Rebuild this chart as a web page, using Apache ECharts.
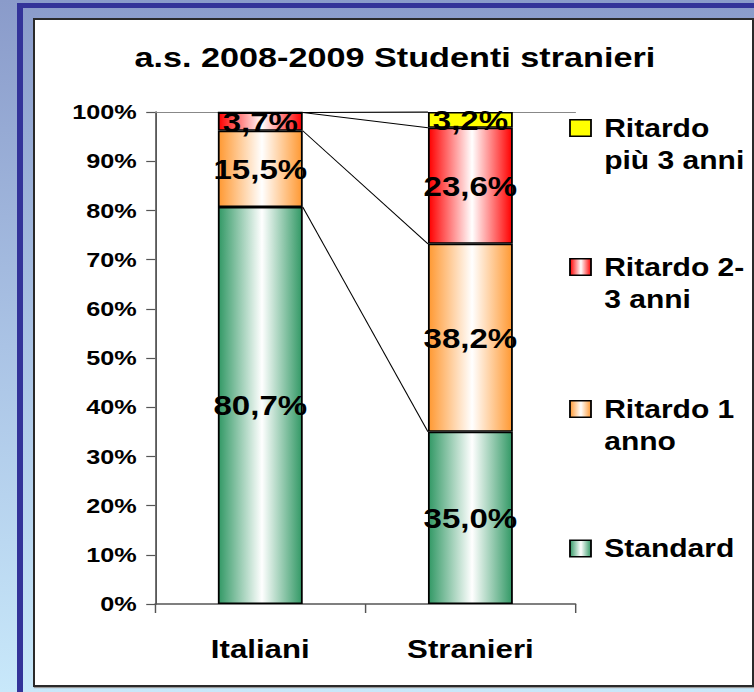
<!DOCTYPE html>
<html><head><meta charset="utf-8">
<script src="https://cdn.jsdelivr.net/npm/echarts@6/dist/echarts.min.js"></script>
<style>
html,body{margin:0;padding:0;width:754px;height:692px;overflow:hidden;}
body{background:linear-gradient(to bottom,#8a9bca 0%,#aac3e5 50%,#c8e8fa 100%);position:relative;}
#frameL{position:absolute;left:17px;top:3px;width:6px;height:720px;background:#333399;}
#frameT{position:absolute;left:17px;top:3px;width:780px;height:4.5px;background:#333399;}
#panel{position:absolute;left:33px;top:18px;width:721px;height:669px;background:#fff;border:2px solid #2a2a2a;box-sizing:border-box;box-shadow:1px 1px 1px #999;}
#chart{position:absolute;left:0;top:0;width:628px;height:692px;transform:scaleX(1.2006);transform-origin:0 0;}
</style></head>
<body>
<div id="frameL"></div><div id="frameT"></div><div id="panel"></div>
<div id="chart"></div>
<script>
// ---- data ----
const titleText = 'a.s. 2008-2009 Studenti stranieri';
const categories = ['Italiani', 'Stranieri'];
const seriesNames = ['Standard', 'Ritardo 1 anno', 'Ritardo 2-3 anni', 'Ritardo più 3 anni'];
const standard = [80.7, 35.0];
const ritardo1 = [15.5, 38.2];
const ritardo23 = [3.7, 23.6];
const ritardoPiu3 = [0, 3.2];
const legendOrder = ['Ritardo più 3 anni', 'Ritardo 2-3 anni', 'Ritardo 1 anno', 'Standard'];
const legendLabels = ['Ritardo\npiù 3 anni', 'Ritardo 2-\n3 anni', 'Ritardo 1\nanno', 'Standard'];
const yMin = 0, yMax = 100, yStep = 10;

// ---- styling ----
const FONT = 'Liberation Sans';
const baseColors = ['#339966', '#ff9933', '#ff0000', '#ffff00'];
const barRatio = 0.404;
function grad(c) {
  return {type: 'linear', x: 0, y: 0, x2: 1, y2: 0,
    colorStops: [{offset: 0, color: c}, {offset: 0.52, color: '#ffffff'}, {offset: 1, color: c}]};
}
const fills = [grad(baseColors[0]), grad(baseColors[1]), grad(baseColors[2]), baseColors[3]];
const values = [standard, ritardo1, ritardo23, ritardoPiu3];
const fmt = v => v.toFixed(1).replace('.', ',') + '%';

const barSeries = seriesNames.map((name, i) => ({
  name, type: 'bar', stack: 'tot', data: values[i], barWidth: (barRatio * 100) + '%',
  itemStyle: {color: fills[i], borderColor: '#000', borderWidth: 1.5},
  label: {show: true, position: 'inside', color: '#000', fontFamily: FONT, fontWeight: 'bold', fontSize: 27.5,
    textBorderWidth: 0, formatter: p => p.value ? fmt(p.value) : ''},
  emphasis: {disabled: true}, z: 2
}));

// cumulative tops for the series connector lines
const connData = [];
let cum = [0, 0];
values.forEach(arr => {
  cum = cum.map((c, j) => c + arr[j]);
  connData.push([0, cum[0], cum[1]]);
});
const connSeries = {
  type: 'custom', name: 'conn', data: connData, clip: false, silent: true, z: 3,
  encode: {x: 0, y: 1},
  renderItem: function (params, api) {
    const v0 = api.value(1), v1 = api.value(2);
    const band = api.size([1, 0])[0];
    const half = band * barRatio / 2;
    const p0 = api.coord([0, v0]);
    const p1 = api.coord([1, v1]);
    return {type: 'line', shape: {x1: p0[0] + half, y1: p0[1], x2: p1[0] - half, y2: p1[1]},
      style: {stroke: '#000', lineWidth: 0.9}};
  }
};

// leading empty line keeps the icon level with the first text line
const legendTops = [80, 219, 361, 532.5];
const legends = legendOrder.map((name, i) => ({
  data: [name], orient: 'vertical', left: 474, top: legendTops[i], padding: 0,
  itemWidth: 17.5, itemHeight: 16.5, selectedMode: false, icon: 'rect',
  formatter: () => (legendLabels[i].indexOf('\n') >= 0 ? '\n' : '') + legendLabels[i],
  itemStyle: {borderColor: '#000', borderWidth: 1.5},
  textStyle: {fontFamily: FONT, fontWeight: 'bold', fontSize: 25, color: '#000', lineHeight: 32,
    padding: [0, 0, 0, 6]}
}));

const chart = echarts.init(document.getElementById('chart'), null, {renderer: 'svg'});
chart.setOption({
  animation: false,
  backgroundColor: 'transparent',
  title: {text: titleText, left: 112, top: 43, padding: 0,
    textStyle: {fontFamily: FONT, fontWeight: 'bold', fontSize: 28.5, color: '#000'}},
  legend: legends,
  grid: {left: 129.3, top: 112, width: 350, height: 492, containLabel: false, outerBoundsMode: 'none'},
  xAxis: [{
    type: 'category', data: categories, position: 'bottom',
    axisLine: {show: true, lineStyle: {color: '#555', width: 1.5}},
    axisTick: {show: true, length: 9, interval: 0, alignWithLabel: false, lineStyle: {color: '#555', width: 1.2}},
    axisLabel: {fontFamily: FONT, fontWeight: 'bold', fontSize: 26, color: '#000', margin: 32, interval: 0},
    splitLine: {show: false}
  }, {
    type: 'category', data: categories, position: 'top', gridIndex: 0,
    axisLine: {show: true, lineStyle: {color: '#888', width: 1}},
    axisTick: {show: false}, axisLabel: {show: false}, splitLine: {show: false}
  }],
  yAxis: {
    type: 'value', min: yMin, max: yMax, interval: yStep,
    axisLine: {show: true, lineStyle: {color: '#555', width: 1.5}},
    axisTick: {show: true, length: 7.5, lineStyle: {color: '#555', width: 1.2}},
    axisLabel: {formatter: v => v + '%', fontFamily: FONT, fontWeight: 'bold', fontSize: 21, color: '#000', margin: 15.5},
    splitLine: {show: false}
  },
  series: [...barSeries, connSeries]
});
</script>
</body></html>
